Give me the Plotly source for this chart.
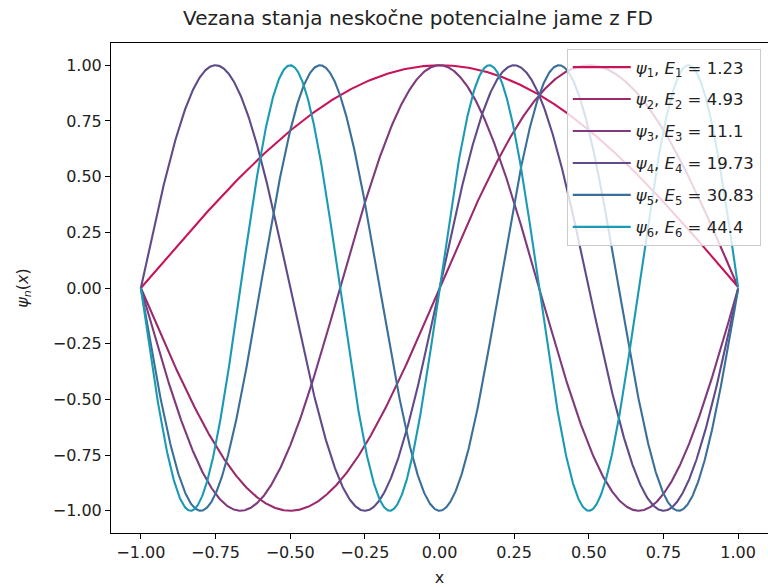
import numpy as np
import plotly.graph_objects as go

# Bound states of the infinite square well on [-1, 1] (units with hbar = m = 1)
state_index = [1, 2, 3, 4, 5, 6]
energies = [1.23, 4.93, 11.1, 19.73, 30.83, 44.4]
phase_sign = [1, -1, -1, 1, -1, -1]
colors = ["#c8145a", "#9a2a6c", "#7e3a7c", "#5f4a8a", "#3a6f9a", "#1a9ab3"]

x_left, x_right = -1.0, 1.0
x = np.linspace(x_left, x_right, 1201)

fig = go.Figure()
for n, E, s, c in zip(state_index, energies, phase_sign, colors):
    k = np.sqrt(2.0 * E)  # E = k^2 / 2
    psi = s * np.sin(k * (x - x_left))
    psi = psi / np.max(np.abs(psi))
    fig.add_trace(go.Scatter(
        x=x, y=psi, mode="lines",
        line=dict(color=c, width=2.1),
        name=f"<i>ψ</i><sub>{n}</sub>, <i>E</i><sub>{n}</sub> = {E:g}",
        legendgroup=f"g{n}",
    ))

axis_common = dict(
    showgrid=False, zeroline=False,
    showline=True, linecolor="black", linewidth=1.1, mirror=True,
    ticks="outside", ticklen=5, tickwidth=1.1, tickcolor="black",
    tickfont=dict(family="DejaVu Sans", size=16, color="#222"),
    tickformat=".2f",
)

fig.update_layout(
    width=768, height=587,
    margin=dict(l=111, r=0, t=43, b=54),
    paper_bgcolor="white", plot_bgcolor="white",
    font=dict(family="DejaVu Sans", color="#222"),
    title=dict(
        text="Vezana stanja neskočne potencialne jame z FD",
        x=418 / 768, xanchor="center", y=1 - 18 / 587, yanchor="middle",
        xref="container", yref="container",
        font=dict(family="DejaVu Sans", size=20, color="#222"),
    ),
    xaxis=dict(axis_common, range=[-1.1, 1.1],
               tickvals=[-1, -0.75, -0.5, -0.25, 0, 0.25, 0.5, 0.75, 1],
               title=dict(text="x", standoff=10,
                          font=dict(family="DejaVu Sans", size=16))),
    yaxis=dict(axis_common, range=[-1.1, 1.1],
               tickvals=[-1, -0.75, -0.5, -0.25, 0, 0.25, 0.5, 0.75, 1],
               title=dict(text="<i>ψ<sub>n</sub></i>(<i>x</i>)", standoff=20,
                          font=dict(family="DejaVu Sans", size=16))),
    legend=dict(
        x=0.989, xanchor="right", y=0.988, yanchor="top",
        bgcolor="rgba(255,255,255,0.8)", bordercolor="#cccccc", borderwidth=1,
        font=dict(family="DejaVu Sans", size=16.5, color="#222"),
        tracegroupgap=7.5, itemwidth=58,
    ),
    showlegend=True,
)

fig.write_html("out.html")
